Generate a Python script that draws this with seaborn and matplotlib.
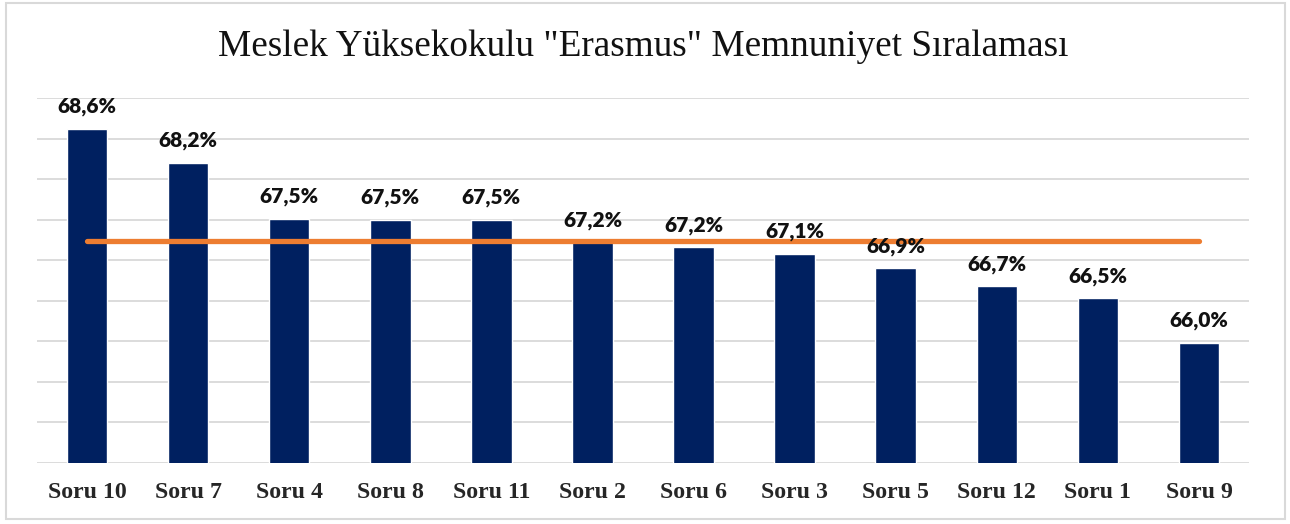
import numpy as np
import seaborn as sns
import matplotlib.pyplot as plt
from matplotlib.patches import Rectangle

categories = ["Soru 10", "Soru 7", "Soru 4", "Soru 8", "Soru 11", "Soru 2",
              "Soru 6", "Soru 3", "Soru 5", "Soru 12", "Soru 1", "Soru 9"]
values = [68.62, 68.20, 67.51, 67.50, 67.50, 67.22,
          67.16, 67.08, 66.90, 66.68, 66.53, 65.98]
average = np.mean(values)
title = 'Meslek Yüksekokulu "Erasmus" Memnuniyet Sıralaması'

sns.set_style("white")

fig = plt.figure(figsize=(12.9, 5.24), dpi=100)
ax = fig.add_axes([0.0283, 0.1164, 0.9403, 0.6966])

sns.barplot(x=categories, y=values, order=categories, color="#002060",
            saturation=1, width=0.4, ax=ax, zorder=2)

# average line
sns.lineplot(x=np.arange(len(categories)), y=np.full(len(categories), average),
             color="#ED7D31", linewidth=3.8, solid_capstyle="round",
             ax=ax, zorder=3)

for i, v in enumerate(values):
    lbl = f"{v:.1f}%".replace(".", ",")
    ax.annotate(lbl, (i, v), xytext=(0, 9), textcoords="offset points",
                ha="center", va="bottom", fontsize=15, fontweight="heavy",
                family="Lato", color="#111111", zorder=5)

ax.set_xlim(-0.5, len(categories) - 0.5)
ax.set_ylim(64.5, 69.0)
ax.set_yticks(np.arange(64.5, 69.01, 0.5))
ax.set_yticklabels([])
ax.grid(axis="y", color="#D9D9D9", linewidth=1.3, zorder=0)
ax.set_axisbelow(True)
for s in ax.spines.values():
    s.set_visible(False)
ax.tick_params(axis="both", length=0)
ax.tick_params(axis="x", pad=14)
for t in ax.get_xticklabels():
    t.set_fontfamily("Liberation Serif")
    t.set_fontweight("bold")
    t.set_fontsize(17.2)
ax.set_xlabel("")
ax.set_ylabel("")

fig.text(0.4985, 0.91, title, ha="center", va="center",
         family="Liberation Serif", fontsize=26.8, color="#111111")

fig.patches.append(Rectangle((6 / 1290, 5 / 524), 1279 / 1290, 516 / 524,
                             transform=fig.transFigure, fill=False,
                             edgecolor="#D9D9D9", linewidth=1.5))

fig.savefig("out.png", dpi=100)
